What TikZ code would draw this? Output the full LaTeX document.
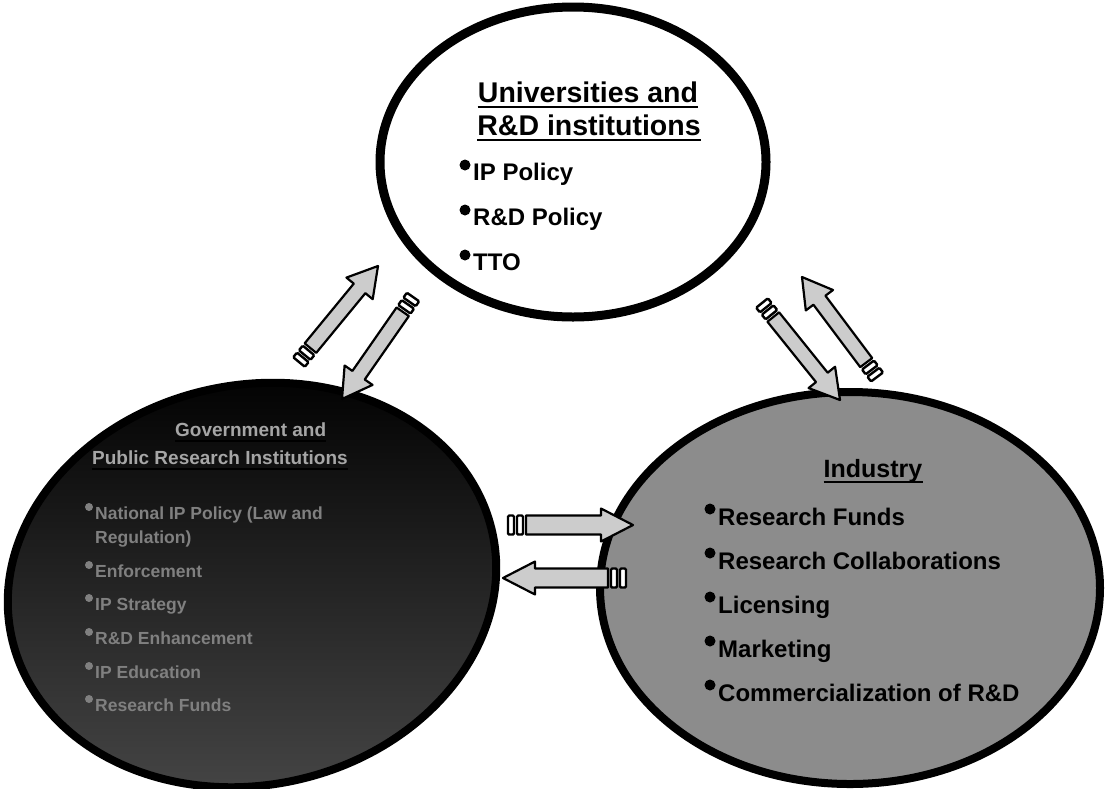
\documentclass[tikz,border=0pt]{standalone}
\usepackage{fontspec}
\setmainfont{Liberation Sans}
\usetikzlibrary{calc,shapes.geometric}
\newcommand{\blkarrow}[6]{%
  \coordinate (#1p) at ($(#2)!6pt!(#3)$);
  \coordinate (#1q) at ($(#2)!9pt!(#3)$);
  \coordinate (#1r) at ($(#2)!15pt!(#3)$);
  \coordinate (#1s) at ($(#2)!18pt!(#3)$);
  \coordinate (#1b) at ($(#3)!#6!(#2)$);
  \draw[tailbar] ($(#2)!#4!90:(#3)$) -- ($(#1p)!#4!90:(#3)$) -- ($(#1p)!#4!-90:(#3)$) -- ($(#2)!#4!-90:(#3)$) -- cycle;
  \draw[tailbar] ($(#1q)!#4!90:(#3)$) -- ($(#1r)!#4!90:(#3)$) -- ($(#1r)!#4!-90:(#3)$) -- ($(#1q)!#4!-90:(#3)$) -- cycle;
  \draw[blockarrow] ($(#1s)!#4!90:(#3)$) -- ($(#1b)!#4!90:(#3)$) -- ($(#1b)!#5!90:(#3)$) -- (#3)
     -- ($(#1b)!#5!-90:(#3)$) -- ($(#1b)!#4!-90:(#3)$) -- ($(#1s)!#4!-90:(#3)$) -- cycle;
}
\newcommand{\bitem}[9]{% name, x, y, text, style, bullet colour, dx, dy, radius
  \node[#5, anchor=base west] (#1) at (#2,#3) {#4};
  \fill[#6] ($(#1.base west)+(#7,#8)$) circle (#9);
}
\newcommand{\uline}[2]{% node, line width
  \draw[line width=#2] ($(#1.base west)+(0,5)$) -- ($(#1.base east)+(0,5)$);
}
\begin{document}
\begin{tikzpicture}[x=1pt,y=-1pt,
  tailbar/.style={draw=black, fill=white, line width=2.4pt, rounded corners=1.2pt},
  blockarrow/.style={draw=black, fill=black!20, line width=2.2pt, line join=round},
  titleA/.style={inner sep=0pt, font=\bfseries\fontsize{28.5}{32}\selectfont},
  itemA/.style={inner sep=0pt, font=\bfseries\fontsize{24}{28}\selectfont},
  titleL/.style={inner sep=0pt, text=black!35, font=\bfseries\fontsize{19}{22}\selectfont},
  itemL/.style={inner sep=0pt, text=black!50, font=\bfseries\fontsize{17.5}{20}\selectfont},
  titleR/.style={inner sep=0pt, font=\bfseries\fontsize{25}{28}\selectfont},
  itemR/.style={inner sep=0pt, font=\bfseries\fontsize{24}{28}\selectfont}
]
\useasboundingbox (0,0) rectangle (1115,788);
\fill[white] (0,0) rectangle (1115,788);

% circles
\node[ellipse, draw=black, line width=9pt, fill=white, inner sep=0pt,
      minimum width=386pt, minimum height=310pt] (uni) at (573,162) {};
\node[ellipse, draw=black, line width=8pt, inner sep=0pt, rotate=12,
      top color=black, bottom color=black!72,
      minimum width=492pt, minimum height=400pt] (gov) at (252,585) {};
\node[ellipse, draw=black, line width=8pt, fill=black!45, inner sep=0pt,
      minimum width=500pt, minimum height=392pt] (ind) at (850,588) {};

% arrows
\coordinate (t1) at (299,362); \coordinate (h1) at (378,266);
\coordinate (t2) at (413,297); \coordinate (h2) at (342,399);
\coordinate (t3) at (762,303); \coordinate (h3) at (840,400);
\coordinate (t4) at (877,377); \coordinate (h4) at (802,277);
\coordinate (t5) at (508,525); \coordinate (h5) at (633,525);
\coordinate (t6) at (626,578); \coordinate (h6) at (503,578);
\blkarrow{a1}{t1}{h1}{7.5pt}{17pt}{29pt}
\blkarrow{a2}{t2}{h2}{7.5pt}{17pt}{29pt}
\blkarrow{a3}{t3}{h3}{7.5pt}{17pt}{29pt}
\blkarrow{a4}{t4}{h4}{7.5pt}{17pt}{29pt}
\blkarrow{a5}{t5}{h5}{9.5pt}{16.5pt}{32pt}
\blkarrow{a6}{t6}{h6}{9.5pt}{16.5pt}{32pt}

% top circle text
\node[titleA, anchor=base] (ut1) at (588,102) {Universities and};
\node[titleA, anchor=base] (ut2) at (589,135) {R\&D institutions};
\uline{ut1}{2.6pt}
\uline{ut2}{2.6pt}
\bitem{u1}{473}{180}{IP Policy}{itemA}{black}{-8}{-15}{5.5}
\bitem{u2}{473}{225}{R\&D Policy}{itemA}{black}{-8}{-15}{5.5}
\bitem{u3}{473}{270}{TTO}{itemA}{black}{-8}{-15}{5.5}

% left circle text
\node[titleL, anchor=base west] (gt1) at (175,436) {Government and};
\node[titleL, anchor=base west] (gt2) at (92,464) {Public Research Institutions};
\uline{gt1}{2pt}
\uline{gt2}{2pt}
\bitem{g1}{95}{519}{National IP Policy (Law and}{itemL}{black!50}{-6}{-12}{4}
\node[itemL, anchor=base west] (g1b) at (95,543) {Regulation)};
\bitem{g2}{95}{577}{Enforcement}{itemL}{black!50}{-6}{-12}{4}
\bitem{g3}{95}{610}{IP Strategy}{itemL}{black!50}{-6}{-12}{4}
\bitem{g4}{95}{644}{R\&D Enhancement}{itemL}{black!50}{-6}{-12}{4}
\bitem{g5}{95}{678}{IP Education}{itemL}{black!50}{-6}{-12}{4}
\bitem{g6}{95}{711}{Research Funds}{itemL}{black!50}{-6}{-12}{4}

% right circle text
\node[titleR, anchor=base] (it1) at (873,477) {Industry};
\uline{it1}{2.4pt}
\bitem{i1}{718}{525}{Research Funds}{itemR}{black}{-8}{-16}{5.5}
\bitem{i2}{718}{569}{Research Collaborations}{itemR}{black}{-8}{-16}{5.5}
\bitem{i3}{718}{613}{Licensing}{itemR}{black}{-8}{-16}{5.5}
\bitem{i4}{718}{657}{Marketing}{itemR}{black}{-8}{-16}{5.5}
\bitem{i5}{718}{701}{Commercialization of R\&D}{itemR}{black}{-8}{-16}{5.5}
\end{tikzpicture}
\end{document}
